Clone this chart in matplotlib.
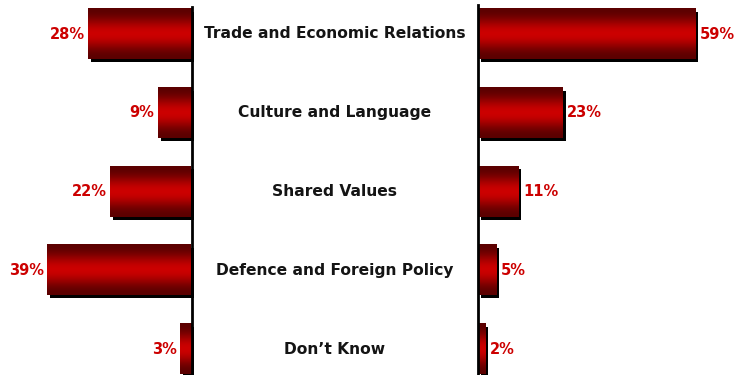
import numpy as np
import matplotlib
matplotlib.use("Agg")
import matplotlib.pyplot as plt
from matplotlib.patches import Rectangle
from matplotlib.transforms import offset_copy

categories = ["Trade and Economic Relations", "Culture and Language", "Shared Values",
              "Defence and Foreign Policy", "Don\u2019t Know"]
left_values = [28, 9, 22, 39, 3]
right_values = [59, 23, 11, 5, 2]

W, H = 740, 375
fig = plt.figure(figsize=(W / 100, H / 100), dpi=100)

px_per_pct = 3.68
row_px = 78.75
first_row_px = 34
bar_h = 0.635

y_top = -first_row_px / row_px
y_bot = y_top + H / row_px

left_axis_px = 191
right_axis_px = 478
pad_px = 12

ax_l = fig.add_axes([0, 0, (left_axis_px + pad_px) / W, 1])
ax_r = fig.add_axes([(right_axis_px - pad_px) / W, 0,
                     (W - right_axis_px + pad_px) / W, 1])

# vertical gradient: dark edges, bright red centre
n = 64
t = np.linspace(0, 1, n)
w = np.sin(np.pi * t) ** 2.2
dark = np.array([0.36, 0.0, 0.0])
bright = np.array([0.80, 0.0, 0.0])
grad = dark[None, :] + (bright - dark)[None, :] * w[:, None]
grad = grad[:, None, :]

def draw_bars(ax, values, side):
    shadow_tr = offset_copy(ax.transData, fig=fig, x=3, y=-3, units="dots")
    for i, v in enumerate(values):
        y0 = i - bar_h / 2
        y1 = i + bar_h / 2
        ax.add_patch(Rectangle((0, y0), v, bar_h, facecolor="black",
                               edgecolor="none", transform=shadow_tr, zorder=1))
        ax.imshow(grad, extent=(0, v, y1, y0), aspect="auto",
                  interpolation="bilinear", zorder=2)
        if side == "left":
            ax.text(v + 0.9, i, f"{v}%", ha="right", va="center", color="#cc0000",
                    fontsize=10.5, fontweight="bold", zorder=4)
        else:
            ax.text(v + 1.2, i, f"{v}%", ha="left", va="center", color="#cc0000",
                    fontsize=10.5, fontweight="bold", zorder=4)

draw_bars(ax_l, left_values, "left")
draw_bars(ax_r, right_values, "right")

ax_l.set_xlim(left_axis_px / px_per_pct, -pad_px / px_per_pct)
ax_r.set_xlim(-pad_px / px_per_pct, (W - right_axis_px) / px_per_pct)
for ax in (ax_l, ax_r):
    ax.set_ylim(y_bot, y_top)
    ax.axis("off")

ax_l.axvline(-0.15, ymin=0, ymax=1 - 7 / H, color="black", lw=2.0, zorder=3)
ax_r.axvline(0.1, ymin=0, ymax=1 - 5 / H, color="black", lw=2.0, zorder=3)

for i, c in enumerate(categories):
    yc = 1 - (first_row_px + i * row_px) / H
    fig.text(335 / W, yc, c, ha="center", va="center", fontsize=11.2,
             fontweight="bold", color="#141414")

fig.savefig("out.png", dpi=100)
